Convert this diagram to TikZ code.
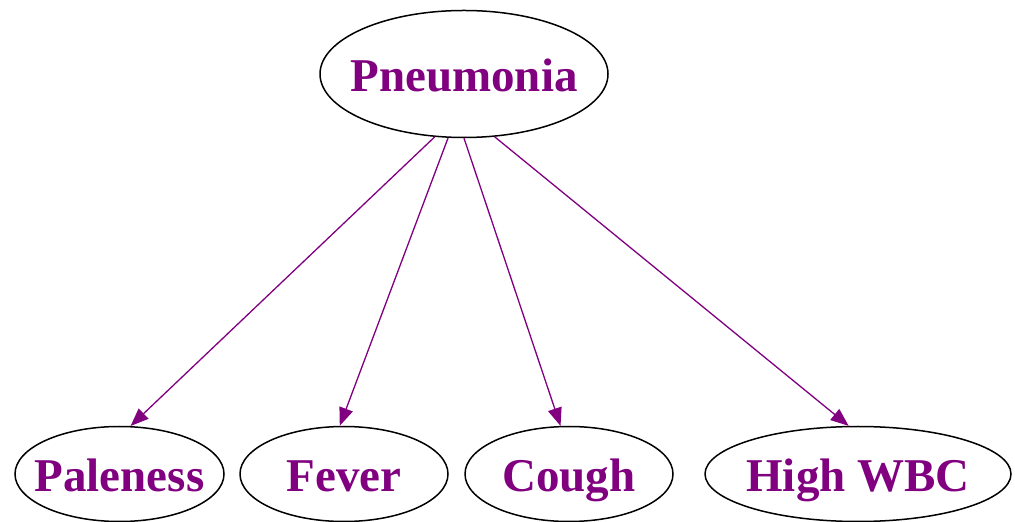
\documentclass[tikz,border=0pt]{standalone}
\usepackage{fontspec}
\setmainfont{Liberation Serif}
\usetikzlibrary{shapes.geometric,arrows.meta}
\definecolor{lbl}{RGB}{128,0,128}
\tikzset{
  var/.style={ellipse, draw=black, line width=0.75pt, inner sep=0pt, text=lbl,
    text height=18pt, text depth=0pt,
    font=\fontsize{23.5}{26}\selectfont\bfseries},
  edge/.style={draw=lbl, line width=0.65pt, -{Triangle[length=9pt,width=7pt]}}
}
\newcommand{\lab}[1]{\makebox[0pt]{#1}}
\begin{document}
\begin{tikzpicture}[x=0.5pt,y=-0.5pt]
\useasboundingbox (0,0) rectangle (1015,522);
\node[var, minimum width=144pt, minimum height=63.5pt] (pn) at (464,74) {\lab{Pneumonia}};
\node[var, minimum width=104.5pt, minimum height=47.5pt] (pal) at (119.5,474) {\lab{Paleness}};
\node[var, minimum width=104pt, minimum height=47.5pt] (fev) at (344,474) {\lab{Fever}};
\node[var, minimum width=104pt, minimum height=47.5pt] (cou) at (569,474) {\lab{Cough}};
\node[var, minimum width=153pt, minimum height=47.5pt] (wbc) at (858,474) {\lab{High WBC}};
\draw[edge] (pn.245) -- (pal.77);
\draw[edge] (pn.256) -- (fev.95);
\draw[edge] (pn.270) -- (cou.100);
\draw[edge] (pn.296) -- (wbc.101);
\end{tikzpicture}
\end{document}
